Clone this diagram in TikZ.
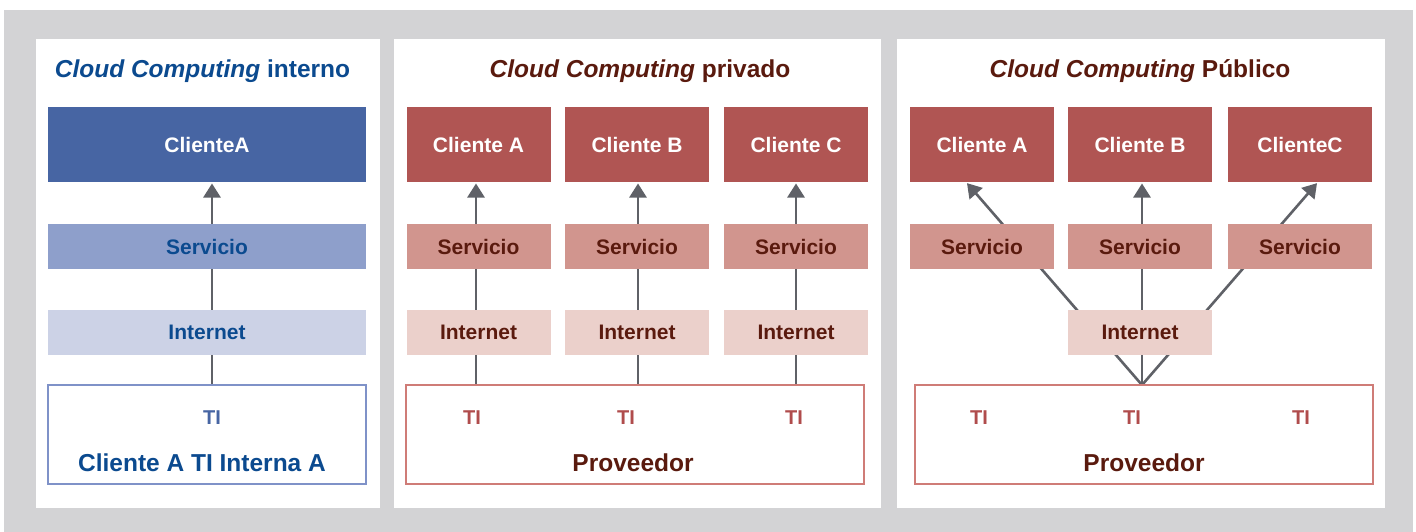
\documentclass[tikz,border=0pt]{standalone}
\usepackage{fontspec}
\setmainfont{Liberation Sans}
\usetikzlibrary{arrows.meta}

\definecolor{gris}{HTML}{D3D3D5}
\definecolor{azulosc}{HTML}{4765A3}
\definecolor{azulmed}{HTML}{8E9FCB}
\definecolor{azulcla}{HTML}{CCD2E6}
\definecolor{azulbor}{HTML}{7F92C8}
\definecolor{azultxt}{HTML}{0B4A8F}
\definecolor{rojoosc}{HTML}{B05553}
\definecolor{rojomed}{HTML}{D1958E}
\definecolor{rojocla}{HTML}{EBD0CB}
\definecolor{rojobor}{HTML}{CF7C77}
\definecolor{rojoti}{HTML}{B04C4C}
\definecolor{marron}{HTML}{5A1A0E}
\definecolor{flechagris}{HTML}{5F6167}

\pgfdeclarelayer{capafondo}
\pgfdeclarelayer{capalineas}
\pgfsetlayers{capafondo,capalineas,main}

\tikzset{
  caja/.style={rectangle, inner sep=0pt, outer sep=0pt, minimum width=144, minimum height=45,
    font=\fontsize{21}{21}\selectfont\bfseries},
  cliente/.style={caja, minimum height=75, text=white},
  clienteazul/.style={cliente, fill=azulosc, minimum width=318},
  servazul/.style={caja, fill=azulmed, text=azultxt, minimum width=318},
  netazul/.style={caja, fill=azulcla, text=azultxt, minimum width=318},
  clienterojo/.style={cliente, fill=rojoosc},
  servrojo/.style={caja, fill=rojomed, text=marron},
  netrojo/.style={caja, fill=rojocla, text=marron},
  marco/.style={rectangle, inner sep=0pt, outer sep=0pt, minimum height=99, line width=2},
  titulo/.style={anchor=base, font=\fontsize{24.5}{24.5}\selectfont\bfseries},
  pie/.style={font=\fontsize{24.5}{24.5}\selectfont\bfseries},
  tilabel/.style={font=\fontsize{20}{20}\selectfont\bfseries},
  flechaest/.style={draw=flechagris, line width=2.6, -{Triangle[width=17,length=14]}, shorten >=1.5}
}

\begin{document}
\begin{tikzpicture}[x=1pt, y=-1pt]
    \useasboundingbox (0,0) rectangle (1416,532);

    % Fondo gris y paneles blancos
    \begin{pgfonlayer}{capafondo}
        \fill[gris] (4,10) rectangle (1413,532);
        \fill[white] (36,39) rectangle (380,507.5);
        \fill[white] (394,39) rectangle (881,507.5);
        \fill[white] (897,39) rectangle (1385,507.5);
    \end{pgfonlayer}

    % Panel 1: interno
    \node[titulo, text=azultxt](tit1) at (202.5,78) {\textit{Cloud Computing} interno};
    \node[clienteazul](cA1) at (207,144.5) {ClienteA};
    \node[servazul](serv1) at (207,246.5) {Servicio};
    \node[netazul](net1) at (207,332.5) {Internet};
    \node[marco, draw=azulbor, minimum width=318](ti1) at (207,434.5) {};
    \node[tilabel, text=azulosc](tiA1) at (212,418) {TI};
    \node[pie, text=azultxt](int1) at (202,462.5) {Cliente A TI Interna A};

    % Panel 2: privado
    \node[titulo, text=marron](tit2) at (640,78) {\textit{Cloud Computing} privado};
    \node[clienterojo](cA2) at (478.5,144.5) {Cliente A};
    \node[clienterojo](cB2) at (637,144.5) {Cliente B};
    \node[clienterojo](cC2) at (796,144.5) {Cliente C};
    \node[servrojo](sA2) at (478.5,246.5) {Servicio};
    \node[servrojo](sB2) at (637,246.5) {Servicio};
    \node[servrojo](sC2) at (796,246.5) {Servicio};
    \node[netrojo](nA2) at (478.5,332.5) {Internet};
    \node[netrojo](nB2) at (637,332.5) {Internet};
    \node[netrojo](nC2) at (796,332.5) {Internet};
    \node[marco, draw=rojobor, minimum width=458](prov2) at (634.5,434.5) {};
    \node[tilabel, text=rojoti](tiA2) at (472,418) {TI};
    \node[tilabel, text=rojoti](tiB2) at (626,418) {TI};
    \node[tilabel, text=rojoti](tiC2) at (794,418) {TI};
    \node[pie, text=marron](pv2) at (633,462.5) {Proveedor};

    % Panel 3: publico
    \node[titulo, text=marron](tit3) at (1140,78) {\textit{Cloud Computing} Público};
    \node[clienterojo](cA3) at (982,144.5) {Cliente A};
    \node[clienterojo](cB3) at (1140,144.5) {Cliente B};
    \node[clienterojo](cC3) at (1300,144.5) {ClienteC};
    \node[servrojo](sA3) at (982,246.5) {Servicio};
    \node[servrojo](sB3) at (1140,246.5) {Servicio};
    \node[servrojo](sC3) at (1300,246.5) {Servicio};
    \node[netrojo](n3) at (1140,332.5) {Internet};
    \node[marco, draw=rojobor, minimum width=458](prov3) at (1144,434.5) {};
    \node[tilabel, text=rojoti](tiA3) at (979,418) {TI};
    \node[tilabel, text=rojoti](tiB3) at (1132,418) {TI};
    \node[tilabel, text=rojoti](tiC3) at (1301,418) {TI};
    \node[pie, text=marron](pv3) at (1144,462.5) {Proveedor};
    \coordinate (conv) at ([xshift=-2]prov3.north);

    % Flechas (detras de las cajas)
    \begin{pgfonlayer}{capalineas}
        \draw[flechaest] ([xshift=5]ti1.north) -- ([xshift=5]cA1.south);
        \draw[flechaest] ([xshift=-2.5]prov2.north -| cA2) -- ([xshift=-2.5]cA2.south);
        \draw[flechaest] ([xshift=1]prov2.north -| cB2) -- ([xshift=1]cB2.south);
        \draw[flechaest] (prov2.north -| cC2) -- (cC2.south);
        \draw[flechaest] (conv) -- ([xshift=-16]cA3.south);
        \draw[flechaest] (conv) -- ([xshift=2]cB3.south);
        \draw[flechaest] (conv) -- ([xshift=18]cC3.south);
    \end{pgfonlayer}
\end{tikzpicture}
\end{document}
